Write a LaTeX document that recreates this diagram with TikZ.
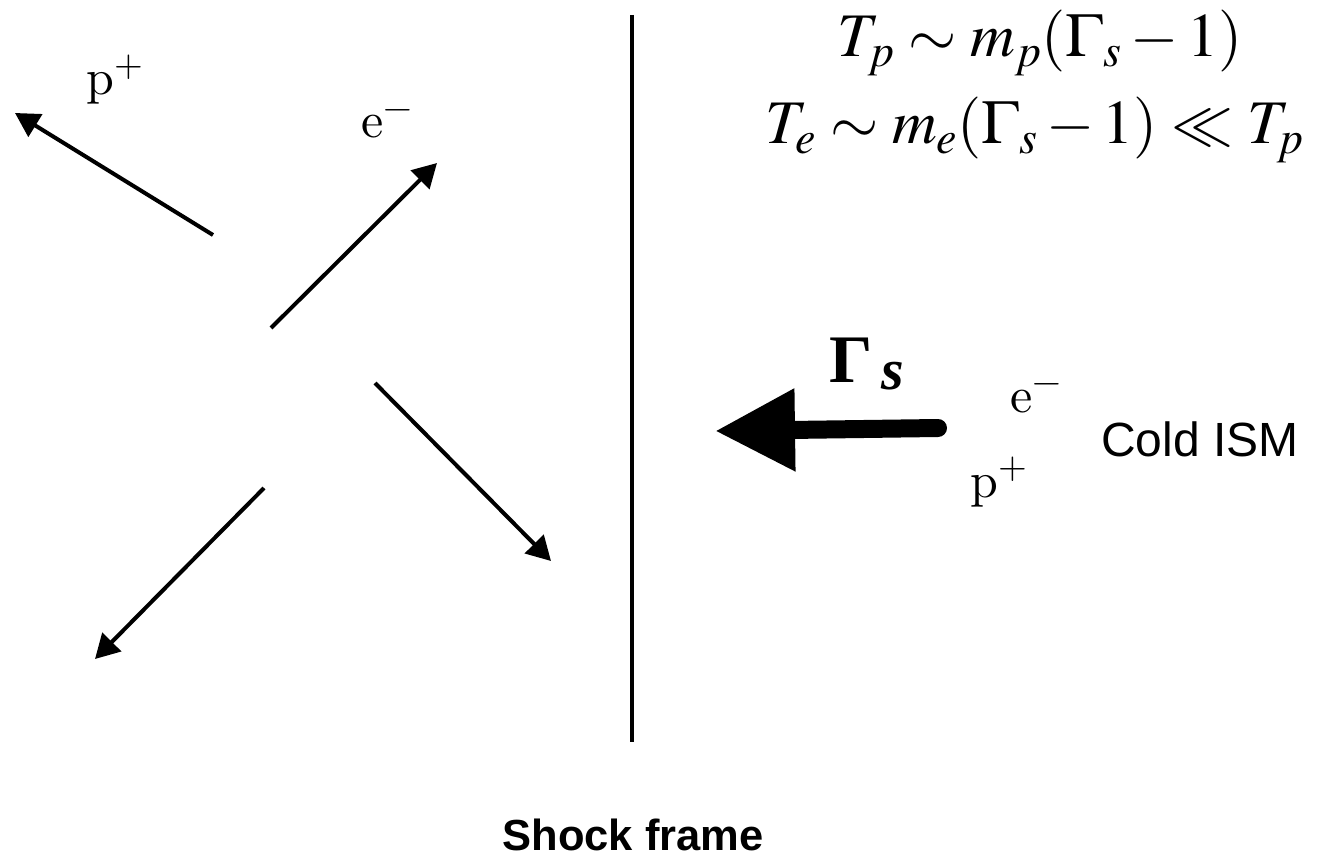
\documentclass[tikz,border=0pt]{standalone}
\usepackage{mathptmx}
\usepackage[no-math]{fontspec}
\setmainfont{Latin Modern Roman}
\newfontfamily\lmten{lmroman10-regular}[Extension=.otf]
\newfontfamily\tms{Liberation Serif}
\newfontfamily\arial{Liberation Sans}
\usetikzlibrary{arrows.meta}
\tikzset{
  parrow/.style={line width=4pt, -{Triangle[length=24pt,width=26pt]}},
  bigarrow/.style={line width=18pt, line cap=round, -{Triangle[length=80pt,width=78pt]}},
  shockline/.style={line width=4.5pt},
  lbl/.style={inner sep=0pt, anchor=base west, font=\fontsize{50}{60}\selectfont\lmten},
  eqn/.style={inner sep=0pt, anchor=base, font=\fontsize{62}{72}\selectfont},
  sans/.style={inner sep=0pt, font=\fontsize{48}{56}\selectfont\arial},
  sansb/.style={inner sep=0pt, font=\fontsize{43.5}{52}\selectfont\arial\bfseries},
  gam/.style={inner sep=0pt, anchor=base west, font=\fontsize{68}{76}\selectfont\tms\bfseries}
}
\begin{document}
\begin{tikzpicture}[x=1pt,y=-1pt]
\useasboundingbox (0,0) rectangle (1317,858);
% shock line
\coordinate (shtop) at (632,15);
\coordinate (shbot) at (632,742);
\draw[shockline] (shtop) -- (shbot);
% downstream particle arrows
\coordinate (a1s) at (213,235); \coordinate (a1e) at (15,113);
\coordinate (a2s) at (271,328); \coordinate (a2e) at (437,163);
\coordinate (a3s) at (375,383); \coordinate (a3e) at (551,561);
\coordinate (a4s) at (264,488); \coordinate (a4e) at (95,659);
\draw[parrow] (a1s) -- (a1e);
\draw[parrow] (a2s) -- (a2e);
\draw[parrow] (a3s) -- (a3e);
\draw[parrow] (a4s) -- (a4e);
\node[lbl] (pl) at (86,95) {p\textsuperscript{+}};
\node[lbl] (el) at (361,138) {e\textsuperscript{−}};
% equations
\node[eqn] (eq1) at (1040,57) {$T_p \sim m_p(\Gamma_s - 1)$};
\node[eqn] (eq2) at (1035,144) {$T_e \sim m_e(\Gamma_s - 1) \ll T_p$};
% incoming flow
\coordinate (bs) at (938,428);
\coordinate (be) at (715,431);
\draw[bigarrow] (bs) -- (be);
\node[gam] (gs) at (829,383) {Γ\kern9pt\raisebox{-7pt}{\fontsize{58}{66}\selectfont\itshape s}};
\node[lbl] (er) at (1010,412) {e\textsuperscript{−}};
\node[lbl] (pr) at (970,497) {p\textsuperscript{+}};
\node[sans] (cold) at (1200,439) {Cold ISM};
\node[sansb] (frame) at (633,835) {Shock frame};
\end{tikzpicture}
\end{document}
